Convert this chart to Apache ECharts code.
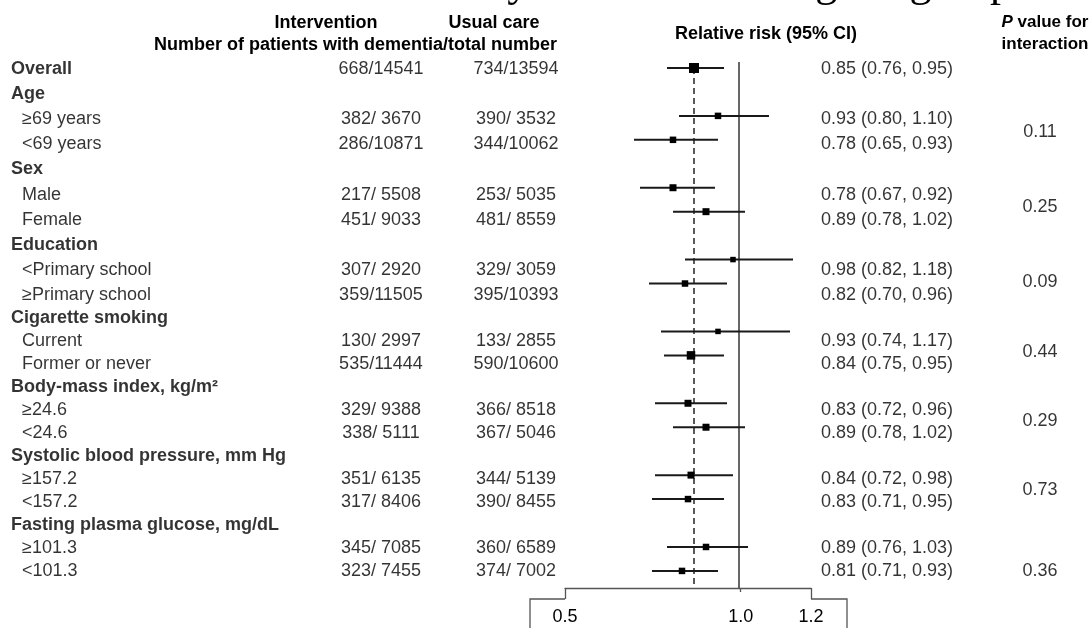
<!DOCTYPE html>
<html>
<head>
<meta charset="utf-8">
<script src="https://cdn.jsdelivr.net/npm/echarts@6/dist/echarts.min.js"></script>
<style>
  html, body { margin: 0; padding: 0; background: #fff; }
  #chart { width: 1091px; height: 628px; }
</style>
</head>
<body>
<div id="chart"></div>
<script>
// rows of the table, top to bottom
const rowLabels = [
  'Overall',
  'Age', '≥69 years', '<69 years',
  'Sex', 'Male', 'Female',
  'Education', '<Primary school', '≥Primary school',
  'Cigarette smoking', 'Current', 'Former or never',
  'Body-mass index, kg/m²', '≥24.6', '<24.6',
  'Systolic blood pressure, mm Hg', '≥157.2', '<157.2',
  'Fasting plasma glucose, mg/dL', '≥101.3', '<101.3'
]
const groupRows = ['Overall', 'Age', 'Sex', 'Education', 'Cigarette smoking',
  'Body-mass index, kg/m²', 'Systolic blood pressure, mm Hg', 'Fasting plasma glucose, mg/dL']

// rows that carry an estimate
const forestRows = ['Overall', '≥69 years', '<69 years', 'Male', 'Female',
  '<Primary school', '≥Primary school', 'Current', 'Former or never',
  '≥24.6', '<24.6', '≥157.2', '<157.2', '≥101.3', '<101.3']
const interventionEvents = [668, 382, 286, 217, 451, 307, 359, 130, 535, 329, 338, 351, 317, 345, 323]
const interventionTotal = [14541, 3670, 10871, 5508, 9033, 2920, 11505, 2997, 11444, 9388, 5111, 6135, 8406, 7085, 7455]
const usualEvents = [734, 390, 344, 253, 481, 329, 395, 133, 590, 366, 367, 344, 390, 360, 374]
const usualTotal = [13594, 3532, 10062, 5035, 8559, 3059, 10393, 2855, 10600, 8518, 5046, 5139, 8455, 6589, 7002]
const relativeRisk = [0.85, 0.93, 0.78, 0.78, 0.89, 0.98, 0.82, 0.93, 0.84, 0.83, 0.89, 0.84, 0.83, 0.89, 0.81]
const ciLow = [0.76, 0.80, 0.65, 0.67, 0.78, 0.82, 0.70, 0.74, 0.75, 0.72, 0.78, 0.72, 0.71, 0.76, 0.71]
const ciHigh = [0.95, 1.10, 0.93, 0.92, 1.02, 1.18, 0.96, 1.17, 0.95, 0.96, 1.02, 0.98, 0.95, 1.03, 0.93]

// P value for interaction, shown next to the subgroup pair
const pRows = ['≥69 years', 'Male', '<Primary school', 'Current', '≥24.6', '≥157.2', '<101.3']
const pValues = ['0.11', '0.25', '0.09', '0.44', '0.29', '0.73', '0.36']

const axisTicks = [0.5, 1.0, 1.2]

// styling only
const markerSizes = [10, 6.5, 6.5, 7, 7, 5.5, 6.5, 5.5, 8.5, 7, 7, 7, 6.5, 6.5, 6.5]
const pShift = [0.5, 0.5, 0.5, 0.5, 0.5, 0.5, 0]
const FONT = "'Liberation Sans', Arial, sans-serif"
const INK = '#000'
const COL = { group: 11, sub: 22, interv: 381, usual: 516, ci: 821, p: 1040 }
const SPLIT = 10 // the table is laid out in two blocks with slightly different row height
const ROW_H = [25.1, 23.0]

const chart = echarts.init(document.getElementById('chart'))

function block (name) {
  return rowLabels.indexOf(name) < SPLIT ? 0 : 1
}

function countText (e, t) {
  return e + '/' + (t < 10000 ? ' ' : '') + t
}

function textSeries (k) {
  const data = []
  rowLabels.forEach((name) => {
    if (block(name) !== k) return
    const isGroup = groupRows.includes(name)
    data.push({
      value: [isGroup ? COL.group : COL.sub, name],
      text: name,
      label: { fontWeight: isGroup ? 'bold' : 'normal' }
    })
  })
  forestRows.forEach((name, i) => {
    if (block(name) !== k) return
    data.push({ value: [COL.interv, name], text: countText(interventionEvents[i], interventionTotal[i]), label: { align: 'center' } })
    data.push({ value: [COL.usual, name], text: countText(usualEvents[i], usualTotal[i]), label: { align: 'center' } })
    data.push({
      value: [COL.ci, name],
      text: relativeRisk[i].toFixed(2) + ' (' + ciLow[i].toFixed(2) + ', ' + ciHigh[i].toFixed(2) + ')'
    })
  })
  pRows.forEach((name, i) => {
    if (block(name) !== k) return
    data.push({ value: [COL.p, name], text: pValues[i], label: { align: 'center', offset: [0, pShift[i] * ROW_H[k]] } })
  })
  return {
    type: 'scatter',
    xAxisIndex: k,
    yAxisIndex: k,
    symbolSize: 0,
    silent: true,
    data: data,
    label: {
      show: true,
      position: 'inside',
      align: 'left',
      verticalAlign: 'middle',
      formatter: (p) => p.data.text,
      color: INK,
      fontSize: 18,
      fontFamily: FONT
    }
  }
}

const forestData = forestRows.map((name, i) => [rowLabels.indexOf(name), relativeRisk[i], ciLow[i], ciHigh[i]])

const hiddenX = { type: 'value', min: 0, max: 1091, show: false }

const option = {
  animation: false,
  backgroundColor: '#fff',
  grid: [
    { left: 0, width: 1091, top: 56.5, height: SPLIT * ROW_H[0] },
    { left: 0, width: 1091, top: 306.5, height: (rowLabels.length - SPLIT) * ROW_H[1] },
    { left: 589, width: 210, top: 56, height: 22.5 * 23.95 },
    { left: 565, width: 246, top: 578, height: 10 }
  ],
  xAxis: [
    Object.assign({ gridIndex: 0 }, hiddenX),
    Object.assign({ gridIndex: 1 }, hiddenX),
    { gridIndex: 2, type: 'value', min: 0.5, max: 1.2, show: false },
    {
      gridIndex: 3,
      type: 'value',
      min: 0.5,
      max: 1.2,
      position: 'bottom',
      axisLine: { show: true, lineStyle: { color: '#555', width: 1.3 } },
      axisTick: { show: true, customValues: [axisTicks[0], axisTicks[2]], length: 11, lineStyle: { color: '#555', width: 1.3 } },
      axisLabel: {
        customValues: axisTicks,
        formatter: (v) => v.toFixed(1),
        fontSize: 18,
        fontFamily: FONT,
        color: INK,
        margin: 20
      },
      splitLine: { show: false }
    },
    {
      gridIndex: 3,
      type: 'value',
      min: 0.5,
      max: 1.2,
      position: 'bottom',
      axisLine: { show: false },
      axisTick: { show: true, customValues: [axisTicks[1]], length: 4, lineStyle: { color: '#555', width: 1.3 } },
      axisLabel: { show: false },
      splitLine: { show: false }
    }
  ],
  yAxis: [
    { gridIndex: 0, type: 'category', inverse: true, show: false, data: rowLabels.slice(0, SPLIT) },
    { gridIndex: 1, type: 'category', inverse: true, show: false, data: rowLabels.slice(SPLIT) },
    { gridIndex: 2, type: 'value', inverse: true, min: -0.5, max: 22, show: false },
    { gridIndex: 3, type: 'value', show: false }
  ],
  series: [
    textSeries(0),
    textSeries(1),
    {
      // line of no effect
      type: 'line',
      xAxisIndex: 2,
      yAxisIndex: 2,
      data: [[1.0, -0.25], [1.0, 21.71]],
      symbol: 'none',
      silent: true,
      lineStyle: { color: '#333', width: 1.5 }
    },
    {
      // overall estimate
      type: 'line',
      xAxisIndex: 2,
      yAxisIndex: 2,
      data: [[relativeRisk[0], 0], [relativeRisk[0], 21.71]],
      symbol: 'none',
      silent: true,
      lineStyle: { color: '#222', width: 1.5, type: [6, 4] }
    },
    {
      type: 'custom',
      xAxisIndex: 2,
      yAxisIndex: 2,
      z: 5,
      silent: true,
      data: forestData,
      encode: { x: [1, 2, 3], y: 0 },
      renderItem: (params, api) => {
        const y = api.value(0)
        const a = api.coord([api.value(2), y])
        const b = api.coord([api.value(3), y])
        const m = api.coord([api.value(1), y])
        const s = markerSizes[params.dataIndex]
        return {
          type: 'group',
          children: [
            { type: 'line', shape: { x1: a[0], y1: a[1], x2: b[0], y2: b[1] }, style: { stroke: '#1a1a1a', lineWidth: 2 } },
            { type: 'rect', shape: { x: m[0] - s / 2, y: m[1] - s / 2, width: s, height: s }, style: { fill: '#000' } }
          ]
        }
      }
    }
  ],
  graphic: [
    {
      type: 'text', x: 530, y: -16, silent: true,
      style: { text: 'Relative risk of dementia by treatment among subgroups', font: '44px "Liberation Serif", serif', fill: '#000', align: 'center', verticalAlign: 'middle' }
    },
    { type: 'text', x: 326, y: 23, silent: true, style: { text: 'Intervention', font: 'bold 18px ' + FONT, fill: INK, align: 'center', verticalAlign: 'middle' } },
    { type: 'text', x: 494, y: 23, silent: true, style: { text: 'Usual care', font: 'bold 18px ' + FONT, fill: INK, align: 'center', verticalAlign: 'middle' } },
    { type: 'text', x: 557, y: 45, silent: true, style: { text: 'Number of patients with dementia/total number', font: 'bold 18px ' + FONT, fill: INK, align: 'right', verticalAlign: 'middle' } },
    { type: 'text', x: 766, y: 34, silent: true, style: { text: 'Relative risk (95% CI)', font: 'bold 18px ' + FONT, fill: INK, align: 'center', verticalAlign: 'middle' } },
    {
      type: 'text', x: 1045, y: 22, silent: true,
      style: {
        text: '{i|P}{b| value for}', align: 'center', verticalAlign: 'middle',
        rich: {
          i: { font: 'italic bold 17px ' + FONT, fill: INK },
          b: { font: 'bold 17px ' + FONT, fill: INK }
        }
      }
    },
    { type: 'text', x: 1045, y: 44, silent: true, style: { text: 'interaction', font: 'bold 17px ' + FONT, fill: INK, align: 'center', verticalAlign: 'middle' } },
    { type: 'polyline', silent: true, shape: { points: [[530, 640], [530, 599], [565, 599]] }, style: { stroke: '#555', lineWidth: 1.3, fill: null } },
    { type: 'polyline', silent: true, shape: { points: [[811, 599], [847, 599], [847, 640]] }, style: { stroke: '#555', lineWidth: 1.3, fill: null } }
  ]
}

chart.setOption(option)
</script>
</body>
</html>
